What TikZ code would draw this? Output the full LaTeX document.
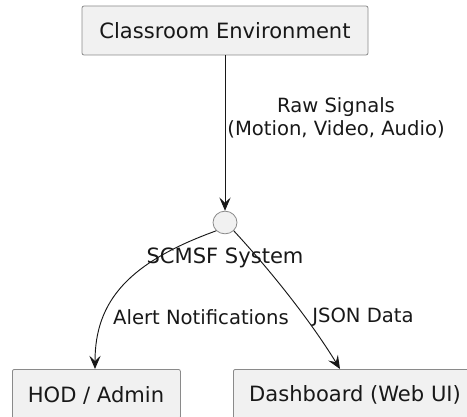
\documentclass[tikz,border=0pt]{standalone}
\usepackage{fontspec}
\setmainfont{DejaVu Sans}
\usetikzlibrary{arrows.meta,shapes.geometric}
\definecolor{boxfill}{HTML}{F1F1F1}
\definecolor{boxline}{HTML}{8A8A8A}
\definecolor{ink}{HTML}{181818}
\tikzset{
  compbox/.style={draw=boxline, fill=boxfill, line width=0.6pt, rounded corners=1.5pt, inner sep=0pt},
  boxtext/.style={font=\fontsize{15.8}{18}\selectfont, text=ink, inner sep=0pt},
  iface/.style={draw=boxline, fill=boxfill, ellipse, line width=0.6pt, minimum width=18pt, minimum height=17pt, inner sep=0pt},
  flow/.style={draw=ink, line width=0.7pt, -{Stealth[length=10pt,width=8.5pt,inset=4pt]}},
  lbl/.style={font=\fontsize{14.7}{17}\selectfont, text=ink, align=center, inner sep=0pt}
}
\begin{document}
\begin{tikzpicture}[x=0.75pt,y=-0.75pt]
\useasboundingbox (0,0) rectangle (467,417);
\node[compbox, minimum width=214.5pt, minimum height=36.75pt] (env) at (225,30.5) {};
\node[boxtext] (envt) at (225,31) {Classroom Environment};
\node[iface] (sys) at (225,222.5) {};
\node[boxtext] (syslbl) at (225,258) {SCMSF System};
\node[compbox, minimum width=126pt, minimum height=37pt, anchor=north west] (hod) at (12,369) {};
\node[boxtext] (hodt) at (96,395) {HOD / Admin};
\node[compbox, minimum width=180pt, minimum height=37pt, anchor=north west] (dash) at (233,369) {};
\node[boxtext] (dasht) at (355,395) {Dashboard (Web UI)};
\coordinate (hodin) at (95,369);
\coordinate (dashin) at (340,369);
\draw[flow] (env.south) -- (sys.north);
\node[lbl] (rawlbl) at (336,118) {Raw Signals\\(Motion, Video, Audio)};
\draw[flow] (sys.south west) .. controls (130,262) and (95,300) .. (hodin);
\node[lbl] (alertlbl) at (201,317) {Alert Notifications};
\draw[flow] (sys.south east) .. controls (270,270) and (310,320) .. (dashin);
\node[lbl] (jsonlbl) at (363,317) {JSON Data};
\end{tikzpicture}
\end{document}
